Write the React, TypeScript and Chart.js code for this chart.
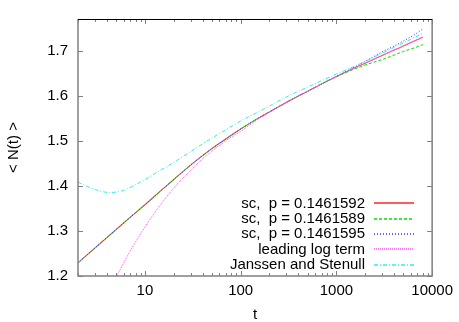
import React, { useEffect, useRef } from "react";
import { Chart, registerables } from "chart.js";
Chart.register(...registerables);

// ---- data ----
const tSC = [2, 3, 4, 5, 7, 10, 15, 20, 30, 40, 50, 70, 100, 150, 200, 300, 400, 500, 700, 1000, 1500, 2000, 3000, 4000, 5000, 6500, 8000];
const scRed = [1.229, 1.262, 1.285, 1.303, 1.330, 1.358, 1.391, 1.414, 1.446, 1.467, 1.4825, 1.504, 1.526, 1.549, 1.564, 1.585, 1.599, 1.6095, 1.626, 1.642, 1.660, 1.672, 1.689, 1.701, 1.710, 1.721, 1.730];
const scGreen = [1.229, 1.262, 1.285, 1.303, 1.330, 1.358, 1.391, 1.414, 1.446, 1.467, 1.4825, 1.504, 1.526, 1.549, 1.564, 1.585, 1.599, 1.6095, 1.626, 1.642, 1.658, 1.668, 1.680, 1.690, 1.698, 1.706, 1.713];
const scBlue = [1.229, 1.262, 1.285, 1.303, 1.330, 1.358, 1.391, 1.414, 1.446, 1.467, 1.4825, 1.504, 1.526, 1.549, 1.564, 1.585, 1.599, 1.6095, 1.626, 1.643, 1.662, 1.676, 1.697, 1.710, 1.721, 1.735, 1.748];

const tLog = [4.5, 5, 6, 7, 8.5, 11, 15, 22, 30, 36, 50, 77, 100, 150, 200, 300, 400, 500, 700, 1000, 1500, 2000, 3000, 4000, 5000, 6500, 8000];
const leadLog = [1.178, 1.197, 1.229, 1.255, 1.285, 1.322, 1.362, 1.405, 1.434, 1.451, 1.477, 1.506, 1.521, 1.547, 1.563, 1.585, 1.599, 1.6095, 1.626, 1.642, 1.660, 1.672, 1.689, 1.701, 1.710, 1.721, 1.730];

const tJS = [2, 3, 4.3, 6, 7.2, 10, 13.6, 20, 30, 50, 71, 100, 150, 200, 300, 412, 500, 700, 1000, 1500, 2000, 3000, 5000, 8000];
const janssen = [1.408, 1.392, 1.385, 1.390, 1.3976, 1.414, 1.431, 1.452, 1.476, 1.506, 1.525, 1.544, 1.563, 1.577, 1.597, 1.611, 1.619, 1.633, 1.648, 1.664, 1.676, 1.694, 1.717, 1.738];

const seriesLabels = [
  "sc,  p = 0.1461592",
  "sc,  p = 0.1461589",
  "sc,  p = 0.1461595",
  "leading log term",
  "Janssen and Stenull",
];

const yTicks = [1.2, 1.3, 1.4, 1.5, 1.6, 1.7];
const yTickLabels = ["1.2", "1.3", "1.4", "1.5", "1.6", "1.7"];
const xMajor = [10, 100, 1000, 10000];
const xMajorLabels = ["10", "100", "1000", "10000"];
const xMin = 2;
const xMax = 10000;
const yMin = 1.2;
const yMax = 1.77;

const FONT = "'Liberation Sans', Arial, Helvetica, sans-serif";

function pts(xs: number[], ys: number[]) {
  return xs.map((x, i) => ({ x, y: ys[i] }));
}

function xTickValues(): number[] {
  const out: number[] = [];
  for (let d = 1; d <= 10000; d *= 10) {
    for (let m = 1; m < 10; m++) {
      const v = m * d;
      if (v >= xMin && v <= xMax) out.push(v);
    }
  }
  return out;
}

const framePlugin = {
  id: "gnuFrame",
  afterDraw(chart: any) {
    const { ctx, chartArea } = chart;
    const { left, right, top, bottom } = chartArea;
    const xs = chart.scales.x;
    const ys = chart.scales.y;
    ctx.save();
    ctx.strokeStyle = "#808080";
    ctx.lineWidth = 1;
    for (const v of xTickValues()) {
      const px = Math.round(xs.getPixelForValue(v)) + 0.5;
      const major = xMajor.includes(v);
      const len = major ? 5 : 3;
      ctx.beginPath();
      ctx.moveTo(px, bottom);
      ctx.lineTo(px, bottom - len);
      ctx.moveTo(px, top);
      ctx.lineTo(px, top + len);
      ctx.stroke();
    }
    for (const v of yTicks) {
      const py = Math.round(ys.getPixelForValue(v)) + 0.5;
      ctx.beginPath();
      ctx.moveTo(left, py);
      ctx.lineTo(left + 5, py);
      ctx.moveTo(right, py);
      ctx.lineTo(right - 5, py);
      ctx.stroke();
    }
    ctx.strokeStyle = "#808080";
    ctx.lineWidth = 1.5;
    ctx.beginPath();
    ctx.moveTo(left, top);
    ctx.lineTo(left, bottom);
    ctx.lineTo(right, bottom);
    ctx.lineTo(right, top);
    ctx.stroke();
    ctx.strokeStyle = "#000";
    ctx.lineWidth = 1;
    ctx.beginPath();
    ctx.moveTo(left, top + 0.5);
    ctx.lineTo(right, top + 0.5);
    ctx.stroke();

    // legend (gnuplot style: text right-aligned, sample on the right)
    const rowY = [203, 218.5, 233.5, 249, 264.5];
    ctx.font = `15px ${FONT}`;
    ctx.textAlign = "right";
    ctx.textBaseline = "middle";
    chart.data.datasets.forEach((ds: any, i: number) => {
      const y = rowY[i];
      ctx.fillStyle = "#000";
      ctx.fillText(ds.label, 365, y + 0.5);
      ctx.strokeStyle = ds.borderColor;
      ctx.lineWidth = i === 0 ? 2 : 1.5;
      ctx.setLineDash(ds.borderDash || []);
      ctx.beginPath();
      ctx.moveTo(374, Math.round(y));
      ctx.lineTo(414, Math.round(y));
      ctx.stroke();
      ctx.setLineDash([]);
    });
    ctx.restore();
  },
};

export default function App() {
  const ref = useRef<HTMLCanvasElement | null>(null);
  useEffect(() => {
    if (!ref.current) return;
    const common = { pointRadius: 0, fill: false, cubicInterpolationMode: "monotone" as const };
    const chart = new Chart(ref.current, {
      type: "line",
      data: {
        datasets: [
          { ...common, order: 5, label: seriesLabels[0], data: pts(tSC, scRed), borderColor: "rgba(255,60,60,0.85)", borderWidth: 1.1 },
          { ...common, order: 4, label: seriesLabels[1], data: pts(tSC, scGreen), borderColor: "#00e000", borderWidth: 1, borderDash: [3, 2] },
          { ...common, order: 3, label: seriesLabels[2], data: pts(tSC, scBlue), borderColor: "#3030ff", borderWidth: 1, borderDash: [1, 2] },
          { ...common, order: 2, label: seriesLabels[3], data: pts(tLog, leadLog), borderColor: "#ff50ff", borderWidth: 1, borderDash: [1, 1] },
          { ...common, order: 1, label: seriesLabels[4], data: pts(tJS, janssen), borderColor: "#30eeee", borderWidth: 1, borderDash: [4, 2, 1, 2] },
        ],
      },
      options: {
        responsive: false,
        animation: false,
        layout: { padding: { left: 0, right: 26, top: 19, bottom: 0 } },
        plugins: { legend: { display: false }, tooltip: { enabled: false } },
        scales: {
          x: {
            type: "logarithmic",
            min: xMin,
            max: xMax,
            grid: { display: false, drawTicks: false },
            border: { display: false },
            afterBuildTicks: (s: any) => {
              s.ticks = xTickValues().map((v) => ({ value: v }));
            },
            afterFit: (s: any) => {
              s.height = 46;
            },
            ticks: {
              autoSkip: false,
              maxRotation: 0,
              minRotation: 0,
              padding: 6,
              color: "#000",
              font: { family: FONT, size: 15 },
              callback: (v: any) => {
                const i = xMajor.indexOf(Number(v));
                return i >= 0 ? xMajorLabels[i] : "";
              },
            },
            title: {
              display: true,
              text: "t",
              color: "#000",
              font: { family: FONT, size: 15, lineHeight: 1 },
              padding: { top: 0, bottom: 0 },
            },
          },
          y: {
            type: "linear",
            min: yMin,
            max: yMax,
            grid: { display: false, drawTicks: false },
            border: { display: false },
            afterBuildTicks: (s: any) => {
              s.ticks = yTicks.map((v) => ({ value: v }));
            },
            afterFit: (s: any) => {
              s.width = 78;
            },
            ticks: {
              padding: 10,
              color: "#000",
              font: { family: FONT, size: 15 },
              callback: (v: any) => {
                const i = yTicks.findIndex((t) => Math.abs(t - Number(v)) < 1e-6);
                return i >= 0 ? yTickLabels[i] : "";
              },
            },
            title: {
              display: true,
              text: "< N(t) >",
              color: "#000",
              font: { family: FONT, size: 15, lineHeight: 1 },
              padding: { top: 6.5, bottom: 0 },
            },
          },
        },
      },
      plugins: [framePlugin],
    });
    return () => chart.destroy();
  }, []);
  return (
    <div style={{ position: "absolute", left: 0, top: 0, width: 459, height: 322, background: "#fff" }}>
      <canvas ref={ref} width={459} height={322} style={{ display: "block" }} />
    </div>
  );
}
